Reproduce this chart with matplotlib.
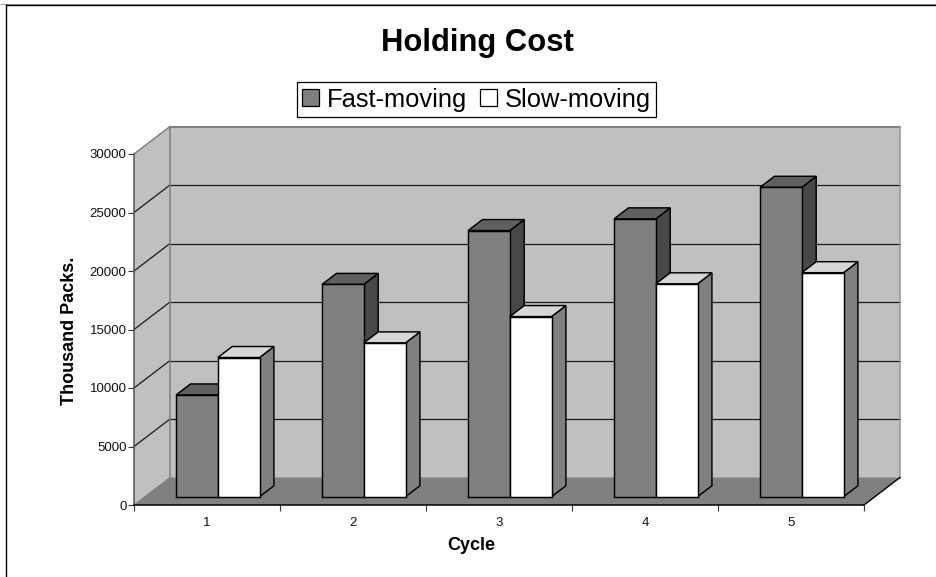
import matplotlib
matplotlib.use("Agg")
import matplotlib.pyplot as plt
from matplotlib.patches import Patch, Polygon
from matplotlib.lines import Line2D

plt.rcParams['font.family'] = ['Liberation Sans', 'DejaVu Sans']

categories = ['1', '2', '3', '4', '5']
fast_moving = [8700, 18150, 22750, 23750, 26450]
slow_moving = [11900, 13150, 15400, 18200, 19150]
y_ticks = [0, 5000, 10000, 15000, 20000, 25000, 30000]
series_names = ['Fast-moving', 'Slow-moving']
title = 'Holding Cost'
x_label = 'Cycle'
y_label = 'Thousand Packs.'

W, H = 937, 577
AX_L, AX_R, AX_T, AX_B = 134, 864, 154, 505
DEPTH_X, DEPTH_Y = 36, 27.5
n = len(categories)
y_max = y_ticks[-1]

fig = plt.figure(figsize=(W / 100, H / 100), dpi=100, facecolor='white')
ax = fig.add_axes([AX_L / W, (H - AX_B) / H, (AX_R - AX_L) / W, (AX_B - AX_T) / H])
ax.set_xlim(0, n)
ax.set_ylim(0, y_max)
ax.patch.set_visible(False)

def proj(x, y, z):
    """Oblique projection: z is depth 0 (front) to 1 (back)."""
    return (x + z * DEPTH_X * n / (AX_R - AX_L),
            y + z * DEPTH_Y * y_max / (AX_B - AX_T))

def face(pts, fc, ec='none', lw=0.0, z=1):
    ax.add_patch(Polygon([proj(*p) for p in pts], closed=True, facecolor=fc,
                         edgecolor=ec, linewidth=lw, clip_on=False, zorder=z,
                         joinstyle='miter'))

def seg(a, b, color, lw, z=2):
    pa, pb = proj(*a), proj(*b)
    ax.add_line(Line2D([pa[0], pb[0]], [pa[1], pb[1]], color=color, lw=lw,
                       clip_on=False, zorder=z))

WALL = '#c0c0c0'
FLOOR = '#808080'
EDGE = '#808080'

# walls and floor
face([(0, 0, 0), (0, 0, 1), (0, y_max, 1), (0, y_max, 0)], WALL)
face([(0, 0, 1), (n, 0, 1), (n, y_max, 1), (0, y_max, 1)], WALL)
face([(0, 0, 0), (n, 0, 0), (n, 0, 1), (0, 0, 1)], FLOOR)

# gridlines
for t in y_ticks[1:-1]:
    seg((0, t, 0), (0, t, 1), '#1a1a1a', 0.9)
    seg((0, t, 1), (n, t, 1), '#1a1a1a', 0.9)

# wall outline
seg((0, y_max, 0), (0, y_max, 1), EDGE, 1.1)
seg((0, y_max, 1), (n, y_max, 1), EDGE, 1.5)
seg((n, y_max, 1), (n, 0, 1), '#989898', 1.1)
seg((0, 0, 1), (0, y_max, 1), EDGE, 1.1)
seg((n, 0, 0), (n, 0, 1), 'black', 1.0)
seg((0, 0, 0), (0, 0, 1), EDGE, 0.8)

# bars
GAP = 1.5
bar_w = 1 / (2 + GAP)
Z0, Z1 = 0.3, 0.7
styles = [('#808080', '#606060', '#484848'), ('#ffffff', '#d6d6d6', '#808080')]
order = 10
for i in range(n):
    for s, vals in enumerate((fast_moving, slow_moving)):
        x0 = i + (GAP / 2 + s) * bar_w
        x1 = x0 + bar_w
        v = vals[i]
        front, top, side = styles[s]
        kw = dict(ec='black', lw=1.05, z=order)
        face([(x1, 0, Z0), (x1, 0, Z1), (x1, v, Z1), (x1, v, Z0)], side, **kw)
        face([(x0, v, Z0), (x1, v, Z0), (x1, v, Z1), (x0, v, Z1)], top, **kw)
        face([(x0, 0, Z0), (x1, 0, Z0), (x1, v, Z0), (x0, v, Z0)], front, **kw)
        order += 1

# axes: real ticks and spines
for sp in ('top', 'right'):
    ax.spines[sp].set_visible(False)
ax.spines['left'].set_color('#555555')
ax.spines['left'].set_linewidth(1.1)
ax.spines['bottom'].set_color('black')
ax.spines['bottom'].set_linewidth(1.1)
for sp in ax.spines.values():
    sp.set_zorder(5)
ax.set_yticks(y_ticks)
ax.set_yticklabels([str(t) for t in y_ticks])
ax.set_xticks(range(n + 1))
ax.set_xticklabels([])
ax.set_xticks([i + 0.5 for i in range(n)], minor=True)
ax.set_xticklabels(categories, minor=True)
ax.tick_params(axis='y', length=4.3, width=0.8, color='#333333', labelsize=9.5,
               pad=1.0, labelcolor='#111111')
ax.tick_params(axis='x', which='major', length=4.3, width=0.8, color='#333333')
ax.tick_params(axis='x', which='minor', length=0, labelsize=9.5, pad=8.5,
               labelcolor='#111111')

# titles
fig.text(477 / W, 1 - 43 / H, title, ha='center', va='center', fontsize=22.3,
         fontweight='bold', color='black')
fig.text(471 / W, 1 - 545 / H, x_label, ha='center', va='center', fontsize=13,
         fontweight='bold', color='black')
fig.text(69.5 / W, 1 - 331 / H, y_label, ha='center', va='center', rotation=90,
         fontsize=13, fontweight='bold', color='black')

# legend
handles = [Patch(facecolor=styles[0][0], edgecolor='black', linewidth=0.9),
           Patch(facecolor=styles[1][0], edgecolor='black', linewidth=0.9)]
leg = fig.legend(handles, series_names, loc='center', ncol=2,
                 bbox_to_anchor=(476.5 / W, 1 - 99.5 / H), fontsize=18.4,
                 frameon=True, fancybox=False, framealpha=1, edgecolor='black',
                 handlelength=0.665, handleheight=0.665, handletextpad=0.3,
                 columnspacing=0.52, borderpad=0.2, borderaxespad=0)
leg.get_frame().set_linewidth(0.9)

# chart frame
fig.add_artist(Line2D([0, 1], [1 - 3.5 / H, 1 - 3.5 / H], color='#a0a0a0', lw=0.72,
                      solid_capstyle='butt'))
fig.add_artist(Line2D([0.0064, 1], [1 - 4.5 / H, 1 - 4.5 / H], color='black', lw=1.0,
                      solid_capstyle='butt'))
fig.add_artist(Line2D([6.5 / W, 6.5 / W], [0, 1 - 4 / H], color='black', lw=1.0,
                      solid_capstyle='butt'))

fig.savefig('out.png', dpi=100)
